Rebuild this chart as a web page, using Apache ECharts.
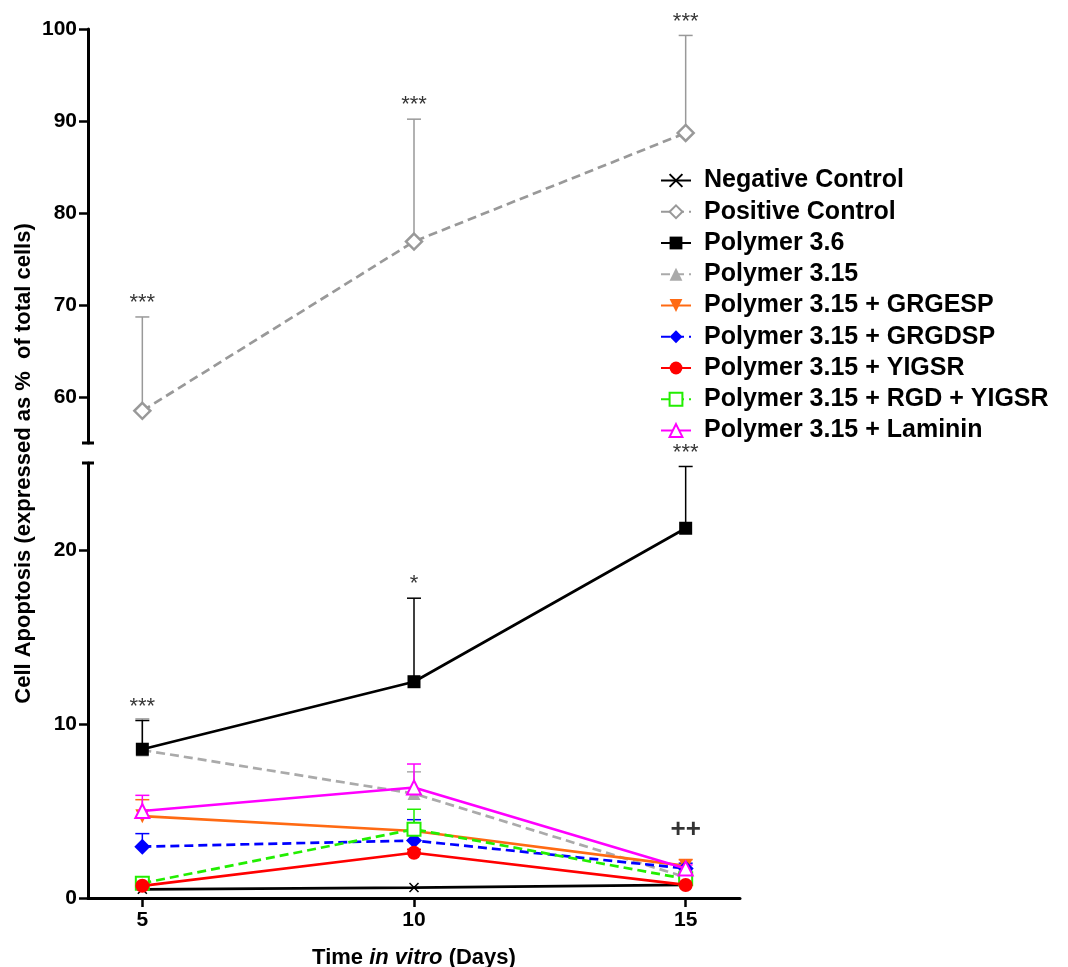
<!DOCTYPE html>
<html>
<head>
<meta charset="utf-8">
<script src="https://cdn.jsdelivr.net/npm/echarts@6/dist/echarts.min.js"></script>
<style>
  html, body { margin: 0; padding: 0; background: #fff; }
  #chart { width: 1068px; height: 967px; }
</style>
</head>
<body>
<div id="chart"></div>
<script>
// Time points (days in vitro)
const days = [5, 10, 15];

// Mean apoptosis (% of total cells) per group
const negativeControl = [0.5, 0.6, 0.75];
const positiveControl = [58.5, 76.9, 88.7];
const polymer36 = [8.55, 12.43, 21.25];
const polymer315 = [8.5, 6.0, 1.2];
const grgesp = [4.7, 3.85, 1.85];
const grgdsp = [2.95, 3.3, 1.7];
const yigsr = [0.7, 2.6, 0.75];
const rgdYigsr = [0.85, 3.95, 1.1];
const laminin = [5.0, 6.35, 1.7];

// Upper error (SEM) per group
const negativeControlErr = [0, 0, 0];
const positiveControlErr = [10.2, 13.3, 10.6];
const polymer36Err = [1.65, 4.8, 3.55];
const polymer315Err = [1.8, 1.25, 0.4];
const grgespErr = [0.95, 0.3, 0.35];
const grgdspErr = [0.75, 1.2, 0.3];
const yigsrErr = [0.15, 0.2, 0.15];
const rgdYigsrErr = [0.2, 1.15, 0.2];
const lamininErr = [0.9, 1.35, 0.2];

// Significance marks
const positiveSig = ['***', '***', '***'];
const polymer36Sig = ['***', '*', '***'];
const day15Mark = '++';
const day15MarkLevel = 3.9;

// Axis ticks
const upperTicks = [60, 70, 80, 90, 100];
const lowerTicks = [0, 10, 20];
const dayTicks = [5, 10, 15];

const FONT = '"Liberation Sans", Arial, sans-serif';

const groups = [
  { name: 'Negative Control', v: negativeControl, e: negativeControlErr, color: '#000000', dash: 'solid',
    symbol: 'path://M0,0L10,10M10,0L0,10', size: 9, open: true, grid: 1, bw: 1.5 },
  { name: 'Positive Control', v: positiveControl, e: positiveControlErr, color: '#999999', dash: [9, 5],
    symbol: 'diamond', size: 16, open: true, grid: 0, bw: 2.5, errColor: '#999999' },
  { name: 'Polymer 3.15', v: polymer315, e: polymer315Err, color: '#aaaaaa', dash: [9, 5],
    symbol: 'triangle', size: 13, open: false, grid: 1 },
  { name: 'Polymer 3.6', v: polymer36, e: polymer36Err, color: '#000000', dash: 'solid',
    symbol: 'rect', size: 13, open: false, grid: 1 },
  { name: 'Polymer 3.15 + GRGESP', v: grgesp, e: grgespErr, color: '#ff6a13', dash: 'solid',
    symbol: 'triangle', rotate: 180, size: 14, open: false, grid: 1 },
  { name: 'Polymer 3.15 + GRGDSP', v: grgdsp, e: grgdspErr, color: '#0000ff', dash: [9, 5],
    symbol: 'diamond', size: 16, open: false, grid: 1 },
  { name: 'Polymer 3.15 + RGD + YIGSR', v: rgdYigsr, e: rgdYigsrErr, color: '#22ee00', dash: [9, 5],
    symbol: 'rect', size: 13, open: true, grid: 1, bw: 2 },
  { name: 'Polymer 3.15 + YIGSR', v: yigsr, e: yigsrErr, color: '#ff0000', dash: 'solid',
    symbol: 'circle', size: 14, open: false, grid: 1 },
  { name: 'Polymer 3.15 + Laminin', v: laminin, e: lamininErr, color: '#ff00ff', dash: 'solid',
    symbol: 'triangle', size: 14, open: true, grid: 1, bw: 2 }
];

const legendOrder = [
  'Negative Control', 'Positive Control', 'Polymer 3.6', 'Polymer 3.15',
  'Polymer 3.15 + GRGESP', 'Polymer 3.15 + GRGDSP', 'Polymer 3.15 + YIGSR',
  'Polymer 3.15 + RGD + YIGSR', 'Polymer 3.15 + Laminin'
];

function errorRenderer(color) {
  return function (params, api) {
    const x = api.value(0), y = api.value(1), e = api.value(2);
    if (!e) return null;
    const p0 = api.coord([x, y]);
    const p1 = api.coord([x, y + e]);
    const half = 7;
    return {
      type: 'group',
      children: [
        { type: 'line', shape: { x1: p0[0], y1: p0[1], x2: p1[0], y2: p1[1] },
          style: { stroke: color, lineWidth: 1.5 } },
        { type: 'line', shape: { x1: p1[0] - half, y1: p1[1], x2: p1[0] + half, y2: p1[1] },
          style: { stroke: color, lineWidth: 1.5 } }
      ]
    };
  };
}

const series = [];
groups.forEach(function (g) {
  series.push({
    type: 'custom',
    name: g.name + ' SEM',
    xAxisIndex: g.grid, yAxisIndex: g.grid,
    renderItem: errorRenderer(g.errColor || g.color),
    data: days.map(function (d, k) { return [d, g.v[k], g.e[k]]; }),
    encode: { x: 0, y: 1 },
    silent: true,
    z: 2
  });
});
groups.forEach(function (g, i) {
  series.push({
    type: 'line',
    name: g.name,
    xAxisIndex: g.grid, yAxisIndex: g.grid,
    data: days.map(function (d, k) { return [d, g.v[k]]; }),
    symbol: g.symbol,
    symbolSize: g.size,
    symbolRotate: g.rotate || 0,
    showSymbol: true,
    lineStyle: { color: g.color, width: 2.7, type: g.dash },
    itemStyle: g.open
      ? { color: g.symbol.indexOf('path') === 0 ? 'none' : '#ffffff', borderColor: g.color, borderWidth: g.bw || 2, opacity: 1 }
      : { color: g.color, borderColor: g.color, borderWidth: 0, opacity: 1 },
    emphasis: { disabled: true },
    animation: false,
    z: 3 + i
  });
});

// Significance labels above the error bars
function sigSeries(gridIdx, values, errs, marks) {
  return {
    type: 'scatter',
    name: 'sig' + gridIdx,
    xAxisIndex: gridIdx, yAxisIndex: gridIdx,
    symbolSize: 0,
    data: days.map(function (d, k) { return [d, values[k] + errs[k]]; }),
    label: {
      show: true, position: 'top', distance: 3,
      formatter: function (p) { return marks[p.dataIndex]; },
      fontFamily: FONT, fontSize: 22, color: '#000'
    },
    silent: true, z: 20
  };
}
series.push(sigSeries(0, positiveControl, positiveControlErr, positiveSig));
series.push(sigSeries(1, polymer36, polymer36Err, polymer36Sig));
series.push({
  type: 'scatter', name: 'mark15', xAxisIndex: 1, yAxisIndex: 1, symbolSize: 0,
  data: [[days[2], day15MarkLevel]],
  label: { show: true, position: 'inside', formatter: day15Mark, fontFamily: FONT,
           fontSize: 26, fontWeight: 'bold', color: '#000' },
  silent: true, z: 20
});

const axisLineStyle = { color: '#000', width: 3 };
const tickLabel = { fontFamily: FONT, fontSize: 21, fontWeight: 'bold', color: '#000' };

const chart = echarts.init(document.getElementById('chart'), null, { renderer: 'canvas' });
chart.setOption({
  animation: false,
  backgroundColor: '#ffffff',
  grid: [
    { left: 88, top: 29, width: 652, height: 414, outerBoundsMode: 'none', containLabel: false },
    { left: 88, top: 463, width: 652, height: 435, outerBoundsMode: 'none', containLabel: false }
  ],
  xAxis: [
    { type: 'value', gridIndex: 0, min: 4, max: 16, show: false },
    { type: 'value', gridIndex: 1, min: 4, max: 16,
      axisLine: { show: true, onZero: false, lineStyle: axisLineStyle },
      axisTick: { show: true, length: 9, lineStyle: { width: 2.5, color: '#000' }, customValues: dayTicks },
      axisLabel: Object.assign({ margin: 12, customValues: dayTicks }, tickLabel),
      splitLine: { show: false },
      name: '{a|Time }{b|in vitro}{a| (Days)}',
      nameLocation: 'middle', nameGap: 49,
      nameTextStyle: {
        rich: {
          a: { fontFamily: FONT, fontSize: 22, fontWeight: 'bold', color: '#000' },
          b: { fontFamily: FONT, fontSize: 22, fontWeight: 'bold', fontStyle: 'italic', color: '#000' }
        }
      }
    }
  ],
  yAxis: [
    { type: 'value', gridIndex: 0, min: 55, max: 100,
      axisLine: { show: true, onZero: false, lineStyle: axisLineStyle },
      axisTick: { show: true, length: 9, lineStyle: { width: 2.5, color: '#000' }, customValues: upperTicks },
      axisLabel: Object.assign({ margin: 11, customValues: upperTicks }, tickLabel),
      splitLine: { show: false }
    },
    { type: 'value', gridIndex: 1, min: 0, max: 25,
      axisLine: { show: true, onZero: false, lineStyle: axisLineStyle },
      axisTick: { show: true, length: 9, lineStyle: { width: 2.5, color: '#000' }, customValues: lowerTicks },
      axisLabel: Object.assign({ margin: 11, customValues: lowerTicks }, tickLabel),
      splitLine: { show: false }
    }
  ],
  legend: {
    data: legendOrder,
    orient: 'vertical',
    left: 655, top: 163,
    itemWidth: 30, itemHeight: 16,
    itemGap: 6.25,
    textStyle: { fontFamily: FONT, fontSize: 25, fontWeight: 'bold', color: '#000',
                 lineHeight: 25, padding: [0, 0, 0, 8] },
    selectedMode: false
  },
  series: series
});

// Axis-break caps and the rotated y-axis title
function drawDecor() {
  const axisX = chart.convertToPixel({ xAxisIndex: 1 }, 4);
  const upperEnd = chart.convertToPixel({ yAxisIndex: 0 }, 55);
  const lowerEnd = chart.convertToPixel({ yAxisIndex: 1 }, 25);
  const top = chart.convertToPixel({ yAxisIndex: 0 }, 100);
  const bottom = chart.convertToPixel({ yAxisIndex: 1 }, 0);
  chart.setOption({
    graphic: [
      { type: 'line', shape: { x1: axisX - 6, y1: upperEnd, x2: axisX + 6, y2: upperEnd },
        style: { stroke: '#000', lineWidth: 3 } },
      { type: 'line', shape: { x1: axisX - 6, y1: lowerEnd, x2: axisX + 6, y2: lowerEnd },
        style: { stroke: '#000', lineWidth: 3 } },
      { type: 'text', x: 24, y: (top + bottom) / 2, rotation: Math.PI / 2,
        style: { text: 'Cell Apoptosis (expressed as %  of total cells)', fontFamily: FONT,
                 fontSize: 22, fontWeight: 'bold', fill: '#000',
                 align: 'center', verticalAlign: 'middle' } }
    ]
  });
}
drawDecor();
</script>
</body>
</html>
